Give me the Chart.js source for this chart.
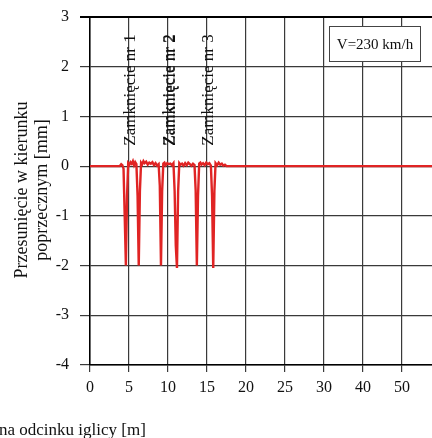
<!DOCTYPE html>
<html>
<head>
<meta charset="utf-8">
<script src="https://cdn.jsdelivr.net/npm/chart.js@4.4.1/dist/chart.umd.min.js"></script>
<style>
  html, body { margin: 0; padding: 0; background: #fff; }
  #wrap { width: 432px; height: 438px; position: relative; }
</style>
</head>
<body>
<div id="wrap"><canvas id="chart"></canvas></div>
<script>
// distance [m] and lateral displacement [mm]
const xValues = [0, 3.8, 4.0, 4.15, 4.3, 4.45, 4.6, 4.75, 4.9, 5.05, 5.2, 5.35, 5.5, 5.65, 5.8, 5.95, 6.1, 6.25, 6.4, 6.55, 6.7, 6.85, 7.0, 7.2, 7.4, 7.6, 7.8, 8.0, 8.2, 8.4, 8.6, 8.8, 8.95, 9.1, 9.25, 9.4, 9.55, 9.7, 9.9, 10.1, 10.3, 10.5, 10.7, 10.85, 11.0, 11.15, 11.3, 11.45, 11.6, 11.8, 12.0, 12.2, 12.4, 12.6, 12.8, 13.0, 13.2, 13.4, 13.55, 13.7, 13.85, 14.0, 14.15, 14.3, 14.5, 14.7, 14.9, 15.1, 15.3, 15.5, 15.65, 15.8, 15.95, 16.1, 16.3, 16.5, 16.7, 16.9, 17.1, 17.3, 17.5, 44];
const yValues = [0, 0, 0.04, 0.02, -0.05, -1.0, -2.0, -0.6, 0.06, 0.03, 0.08, 0.05, 0.1, 0.02, 0.08, 0.04, -0.6, -2.0, -0.5, 0.07, 0.04, 0.1, 0.06, 0.09, 0.03, 0.07, 0.05, 0.08, 0.02, 0.06, 0.01, 0.04, -0.4, -2.0, -0.5, 0.05, 0.07, 0.02, 0.06, 0.04, 0.05, 0.02, 0.06, -0.5, -1.6, -2.05, -0.5, 0.06, 0.03, 0.05, 0.01, 0.06, 0.02, 0.07, 0.04, 0.01, 0.05, 0.02, -0.5, -2.0, -0.6, 0.05, 0.07, 0.03, 0.06, 0.02, 0.07, 0.04, 0.06, 0.01, -0.6, -2.05, -0.5, 0.06, 0.02, 0.07, 0.03, 0.05, 0.01, 0.03, 0, 0];
const xTickLabels = ["0", "5", "10", "15", "20", "25", "30", "40", "50"];
const closureX = [5, 10, 15];
const closureLabels = ["Zamknięcie nr 1", "Zamknięcie nr 2", "Zamknięcie nr 3"];

const points = xValues.map((x, i) => ({ x: x, y: yValues[i] }));
const serif = "'Liberation Serif', 'DejaVu Serif', serif";

// texts drawn on the canvas: axis titles, closure labels and speed box
const decorations = {
  id: "decorations",
  afterDatasetsDraw(chart) {
    const ctx = chart.ctx;
    const xs = chart.scales.x;
    ctx.save();
    ctx.fillStyle = "#111";
    ctx.textAlign = "center";
    ctx.textBaseline = "middle";

    // closures
    ctx.font = "17px " + serif;
    closureLabels.forEach((label, i) => {
      const px = xs.getPixelForValue(closureX[i]) + 2;
      ctx.save();
      ctx.translate(px, 90);
      ctx.rotate(-Math.PI / 2);
      ctx.fillText(label, 0, 0);
      if (i === 1) ctx.fillText(label, 0, 0.8);
      ctx.restore();
    });

    // y title
    ctx.font = "18px " + serif;
    ctx.save();
    ctx.translate(22, 190);
    ctx.rotate(-Math.PI / 2);
    ctx.fillText("Przesunięcie w kierunku", 0, 0);
    ctx.fillText("poprzecznym [mm]", 0, 20);
    ctx.restore();

    // x title (cut off on the left in the original)
    ctx.textAlign = "left";
    ctx.font = "17px " + serif;
    ctx.fillText("na odcinku iglicy [m]", -1, 431);

    // speed box
    ctx.fillStyle = "#fff";
    ctx.fillRect(329.5, 26.5, 91, 35);
    ctx.strokeStyle = "#444";
    ctx.lineWidth = 1;
    ctx.strokeRect(329.5, 26.5, 91, 35);
    ctx.fillStyle = "#111";
    ctx.textAlign = "center";
    ctx.font = "15px " + serif;
    ctx.fillText("V=230 km/h", 375, 45);

    // heavy top border
    ctx.strokeStyle = "#000";
    ctx.lineWidth = 2;
    ctx.beginPath();
    ctx.moveTo(chart.chartArea.left - 10, chart.chartArea.top);
    ctx.lineTo(chart.chartArea.right, chart.chartArea.top);
    ctx.stroke();
    ctx.restore();
  }
};

new Chart(document.getElementById("chart"), {
  type: "line",
  data: {
    datasets: [
      {
        data: points,
        borderColor: "#e02424",
        borderWidth: 2.4,
        pointRadius: 0,
        tension: 0,
        fill: false,
      },
    ],
  },
  options: {
    responsive: true,
    maintainAspectRatio: false,
    animation: false,
    layout: { padding: { top: 17, right: 0, left: 0, bottom: 0 } },
    plugins: {
      legend: { display: false },
      tooltip: { enabled: false },
    },
    scales: {
      x: {
        type: "linear",
        min: 0,
        max: 43.85,
        afterFit: (scale) => {
          scale.height = 73;
          scale.paddingLeft = 0;
          scale.paddingRight = 0;
        },
        grid: { color: "#3a3a3a", lineWidth: 1.2, tickLength: 7, drawTicks: true },
        border: { color: "#000", width: 1.5 },
        ticks: {
          stepSize: 5,
          includeBounds: false,
          autoSkip: false,
          maxRotation: 0,
          padding: 6,
          color: "#111",
          font: { family: serif, size: 16 },
          callback: (value) => xTickLabels[Math.round(value / 5)],
        },
      },
      y: {
        min: -4,
        max: 3,
        afterFit: (scale) => {
          scale.width = 90;
          scale.paddingTop = 0;
          scale.paddingBottom = 0;
        },
        grid: { color: "#3a3a3a", lineWidth: 1.2, tickLength: 10 },
        border: { color: "#000", width: 1.5 },
        ticks: {
          stepSize: 1,
          padding: 11,
          color: "#111",
          font: { family: serif, size: 16 },
        },
      },
    },
  },
  plugins: [decorations],
});
</script>
</body>
</html>
